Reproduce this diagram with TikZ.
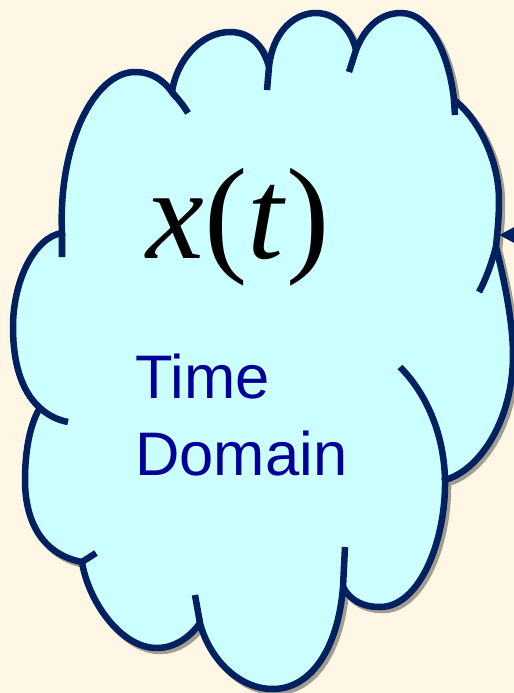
\documentclass[tikz,border=0pt]{standalone}
\usepackage{fontspec}
\setmainfont{Liberation Serif}
\newfontfamily\labelfont{Liberation Sans}
\usetikzlibrary{arrows.meta}
\definecolor{cream}{HTML}{FFF7E6}
\definecolor{skyfill}{HTML}{CCFFFF}
\definecolor{navy}{HTML}{002060}
\definecolor{labelblue}{HTML}{000099}
\definecolor{shadowgrey}{HTML}{A39D8F}
\tikzset{cloudline/.style={draw=navy, line width=3.7pt, line join=miter, miter limit=3},
  shadowline/.style={draw=shadowgrey, line width=3.7pt},
  labeltext/.style={anchor=base west, inner sep=0pt, text=labelblue}}
\newcommand{\cloudpath}{(62,233) .. controls (58,145) and (94,72) .. (135,72)
  .. controls (152,72) and (163,80) .. (172,92)
  .. controls (176,62) and (200,32) .. (230,32)
  .. controls (252,32) and (264,48) .. (269,67)
  .. controls (272,35) and (292,13) .. (316,13)
  .. controls (338,13) and (352,32) .. (356,50)
  .. controls (366,25) and (382,13) .. (401,13)
  .. controls (432,13) and (450,60) .. (454,100)
  .. controls (478,118) and (499,160) .. (499,200)
  .. controls (499,220) and (497,235) .. (496,247)
  .. controls (503,275) and (513,320) .. (513,355)
  .. controls (513,420) and (480,470) .. (445,480)
  .. controls (446,540) and (420,607) .. (380,607)
  .. controls (362,607) and (350,600) .. (343,587)
  .. controls (338,650) and (310,689) .. (273,689)
  .. controls (236,689) and (208,655) .. (200,623)
  .. controls (188,640) and (172,648) .. (157,648)
  .. controls (120,648) and (88,600) .. (82,562)
  .. controls (45,555) and (25,525) .. (25,480)
  .. controls (25,445) and (32,420) .. (40,408)
  .. controls (20,390) and (13,360) .. (13,327)
  .. controls (13,280) and (35,237) .. (62,233) -- cycle}

\begin{document}
\begin{tikzpicture}[x=0.2mm,y=-0.2mm]
\clip (0,0) rectangle (514,693);
\fill[cream] (0,0) rectangle (514,693);
\draw[shadowline, shift={(3,3)}] \cloudpath;
\filldraw[cloudline, fill=skyfill] \cloudpath;
\draw[cloudline] (62,233) -- (62,257) (172,92) .. controls (178,99) and (184,106) .. (188,113)
  (269,67) -- (267,90) (356,50) -- (349,72) (454,100) -- (455,115)
  (496,247) .. controls (491,265) and (486,279) .. (479,292)
  (445,480) .. controls (444,432) and (425,392) .. (400,367)
  (343,587) -- (345,547) (200,623) -- (195,595) (82,562) -- (96,553)
  (40,408) .. controls (49,416) and (58,420) .. (68,422);
\coordinate (from) at (600,235); \coordinate (into) at (499,235);
\draw[navy, line width=3.7pt, -{Triangle[length=5.6mm,width=5.6mm]}] (from) -- (into);
\node[anchor=base west, inner sep=0pt] (signal) at (146,258)
  {\fontsize{74}{74}\selectfont\itshape x\/\upshape(\itshape t\/\upshape)};
\node[labeltext] (time) at (135,398) {\labelfont\fontsize{35}{42}\selectfont Time};
\node[labeltext] (domain) at (135,475) {\labelfont\fontsize{35}{42}\selectfont Domain};
\end{tikzpicture}
\end{document}
